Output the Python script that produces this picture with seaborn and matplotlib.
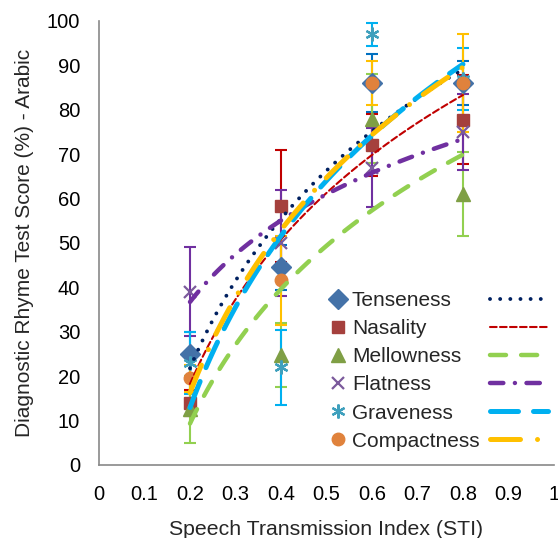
import numpy as np
import matplotlib
matplotlib.use("Agg")
import matplotlib.pyplot as plt
import seaborn as sns
from matplotlib.lines import Line2D

sti = [0.2, 0.4, 0.6, 0.8]
features = ["Tenseness", "Nasality", "Mellowness", "Flatness", "Graveness", "Compactness"]
scores = {
    "Tenseness":   [25.0, 44.5, 86.0, 86.0],
    "Nasality":    [14.0, 58.4, 72.0, 77.8],
    "Mellowness":  [12.5, 24.7, 78.0, 61.0],
    "Flatness":    [39.0, 50.0, 67.0, 75.0],
    "Graveness":   [23.0, 22.0, 97.0, 87.0],
    "Compactness": [19.5, 41.6, 86.0, 86.0],
}
errors = {
    "Tenseness":   [5.0, 5.0, 6.6, 5.0],
    "Nasality":    [3.0, 12.6, 7.0, 10.0],
    "Mellowness":  [7.5, 7.2, 10.0, 9.5],
    "Flatness":    [10.0, 12.0, 9.0, 8.5],
    "Graveness":   [7.0, 8.5, 2.6, 7.0],
    "Compactness": [3.0, 10.0, 5.0, 11.0],
}

# marker, marker colour, error bar colour, marker size
marker_style = {
    "Tenseness":   ("D", "#4472A8", "#0070C0", 10),
    "Nasality":    ("s", "#A5403D", "#C00000", 9),
    "Mellowness":  ("^", "#7F9F45", "#92D050", 10),
    "Flatness":    ("x", "#7B5A9C", "#7030A0", 9),
    "Graveness":   ((6, 2, 0), "#3FA0BD", "#00B0F0", 10),
    "Compactness": ("o", "#E0823C", "#FFC000", 9),
}
# trend line colour, width, dash pattern (in linewidth units)
trend_style = {
    "Tenseness":   ("#002060", 2.8, (0.01, 2.6)),
    "Nasality":    ("#C00000", 1.5, (3.2, 1.6)),
    "Mellowness":  ("#92D050", 3.2, (3.6, 3.4)),
    "Flatness":    ("#7030A0", 3.2, (3.0, 2.6, 0.01, 2.6)),
    "Graveness":   ("#00B0F0", 3.6, (5.6, 3.0)),
    "Compactness": ("#FFC000", 3.6, (6.0, 3.4, 0.01, 3.4)),
}


def edge_width(m):
    return 1.6 if m in ("x", (6, 2, 0)) else 1.0


sns.set_theme(style="white")
plt.rcParams["font.family"] = ["Liberation Sans", "DejaVu Sans"]

fig = plt.figure(figsize=(5.58, 5.38), dpi=100)
ax = fig.add_axes([0.1774, 0.1357, 0.8154, 0.8253])

for name in features:
    m, mc, ec, ms = marker_style[name]
    ax.errorbar(sti, scores[name], yerr=errors[name], fmt="none",
                ecolor=ec, elinewidth=1.5, capsize=4, capthick=1.5, zorder=2)
    ax.plot(sti, scores[name], linestyle="none", marker=m, color=mc,
            markersize=ms, markeredgewidth=edge_width(m), zorder=3)

# logarithmic trend lines, fitted by seaborn
for name in features:
    c, lw, dash = trend_style[name]
    sns.regplot(x=np.array(sti), y=np.array(scores[name]), logx=True, ci=None,
                scatter=False, ax=ax,
                line_kws=dict(color=c, lw=lw, dashes=dash,
                              dash_capstyle="round", zorder=4))

ax.set_xlim(0, 1)
ax.set_ylim(0, 100)
ax.set_xticks(np.arange(0, 1.01, 0.1))
ax.set_xticklabels(["0"] + [f"{v:.1f}" for v in np.arange(0.1, 0.95, 0.1)] + ["1"])
ax.set_yticks(np.arange(0, 101, 10))
ax.tick_params(axis="both", direction="out", length=5, width=1, color="#898989",
               labelsize=14.5, labelcolor="black")
ax.tick_params(axis="y", pad=8.5)
ax.tick_params(axis="x", pad=9.5)
for side in ["top", "right"]:
    ax.spines[side].set_visible(False)
for side in ["left", "bottom"]:
    ax.spines[side].set_color("#898989")
    ax.spines[side].set_linewidth(1.2)

ax.set_xlabel("Speech Transmission Index (STI)", fontsize=15.3, labelpad=11.5)
ax.set_ylabel("Diagnostic Rhyme Test Score (%) - Arabic", fontsize=15, labelpad=9)

# legend: markers with names, and trend lines without names
mk_handles = []
ln_handles = []
for name in features:
    m, mc, ec, ms = marker_style[name]
    mk_handles.append(Line2D([], [], marker=m, color=mc, linestyle="none",
                             markersize=ms, markeredgewidth=edge_width(m)))
    c, lw, dash = trend_style[name]
    ln_handles.append(Line2D([], [], color=c, lw=lw, dashes=dash, dash_capstyle="round"))

leg1 = ax.legend(mk_handles, features, loc="upper left", bbox_to_anchor=(0.507, 0.392),
                 frameon=False, fontsize=15, handlelength=0.8, handletextpad=0.27,
                 labelspacing=0.44, borderpad=0, borderaxespad=0)
ax.add_artist(leg1)
ax.legend(ln_handles, [""] * 6, loc="upper left", bbox_to_anchor=(0.859, 0.392),
          frameon=False, fontsize=15, handlelength=2.8, handletextpad=0,
          labelspacing=0.44, borderpad=0, borderaxespad=0)

fig.savefig("out.png", dpi=100)
